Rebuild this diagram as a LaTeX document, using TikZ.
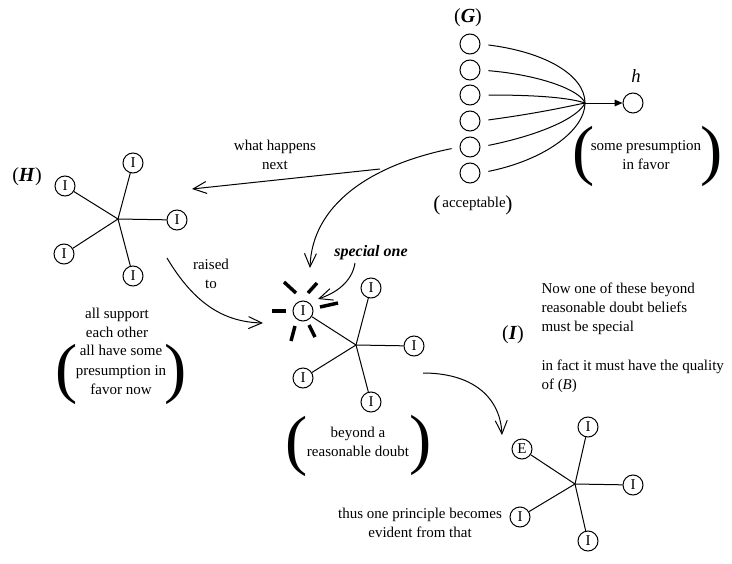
\documentclass[tikz,border=0pt]{standalone}
\usepackage{fontspec}
\setmainfont{Liberation Serif}
\usetikzlibrary{arrows.meta}

\tikzset{every picture/.style={line width=0.75pt}}
\tikzset{
  txt/.style={inner sep=0.75pt, align=center, font=\fontsize{11.25}{14.5}\selectfont},
  bulb/.style={draw, circle, minimum size=15pt, inner sep=0pt, font=\fontsize{11.25}{12}\selectfont},
  bigparen/.style={inner sep=0pt, font=\fontsize{50}{50}\selectfont},
  smallparen/.style={inner sep=0pt, font=\fontsize{16}{16}\selectfont},
  tag/.style={inner sep=0.75pt, font=\fontsize{15}{15}\selectfont},
  openarrow/.style={-{Straight Barb[length=10pt,width=9pt]}},
  ray/.style={line width=2.6pt},
}

\begin{document}
\begin{tikzpicture}[x=0.75pt,y=0.75pt,yscale=-1,xscale=1]
        \useasboundingbox (0,0) rectangle (732,564);

        %Shape: Circle column (G)
        \node [bulb] (g1) at (470,44) {};
        \node [bulb] (g2) at (470,70) {};
        \node [bulb] (g3) at (470,95) {};
        \node [bulb] (g4) at (470,121) {};
        \node [bulb] (g5) at (470,147) {};
        \node [bulb] (g6) at (470,173) {};
        % Text Node
        \node [tag] (glab) at (468,18) {(\textbf{\textit{G}})};
        % Text Node
        \node [smallparen] (accl) at (437,205) {(};
        \node [smallparen] (accr) at (509,205) {)};
        \node [txt] (acc) at (474,204) {acceptable};

        %Shape: Circle h
        \node [bulb] (hdot) at (633,103) {};
        % Text Node
        \node [txt, font=\itshape\fontsize{14}{14}\selectfont] (hlab) at (636,76) {h};

        %Curve Lines
        \coordinate (fan) at (585,103);
        \draw [shorten <=6pt] (g1.east) .. controls (545,52) and (585,75) .. (fan);
        \draw [shorten <=6pt] (g2.east) .. controls (540,75) and (580,90) .. (fan);
        \draw [shorten <=6pt] (g3.east) .. controls (540,95) and (570,98) .. (fan);
        \draw [shorten <=6pt] (g4.east) .. controls (540,113) and (570,106) .. (fan);
        \draw [shorten <=6pt] (g5.east) .. controls (540,135) and (578,118) .. (fan);
        \draw [shorten <=6pt] (g6.east) .. controls (545,160) and (585,130) .. (fan);
        %Straight Lines
        \draw [-{Triangle[length=6pt,width=5pt]}] (fan) -- (hdot);

        % Text Node
        \node [bigparen] (hpl) at (584,156) {(};
        \node [bigparen] (hpr) at (712,156) {)};
        \node [txt] (hfavor) at (646,155) {some presumption\\in favor};

        %Shape: Star (H)
        \node [tag] (Hlab) at (27,177) {(\textbf{\textit{H}})};
        \coordinate (hhub) at (118,219);
        \node [bulb] (ha) at (133,163) {I};
        \node [bulb] (hb) at (65,186) {I};
        \node [bulb] (hc) at (177,220) {I};
        \node [bulb] (hd) at (64,254) {I};
        \node [bulb] (he) at (133,276) {I};
        \draw (hhub) -- (ha);
        \draw (hhub) -- (hb);
        \draw (hhub) -- (hc);
        \draw (hhub) -- (hd);
        \draw (hhub) -- (he);

        % Text Node
        \node [txt] (support) at (117,323) {all support\\each other};
        \node [bigparen] (Hpl) at (67,374) {(};
        \node [bigparen] (Hpr) at (176,374) {)};
        \node [txt] (presume) at (121,370) {all have some\\presumption in\\favor now};

        % Text Node
        \node [txt] (next) at (275,155) {what happens\\next};
        %Straight Lines
        \coordinate (split) at (380,169);
        \coordinate (hin) at (192,189);
        \draw [openarrow] (split) -- (hin);
        %Curve Lines
        \coordinate (spin) at (310,268);
        \draw [openarrow, shorten <=6pt] (g5.west) .. controls (370,165) and (312,205) .. (spin);

        % Text Node
        \node [txt] (raised) at (211,274) {raised\\to};
        %Curve Lines
        \coordinate (rstart) at (167,258);
        \coordinate (rend) at (263,323);
        \draw [openarrow] (rstart) .. controls (195,305) and (225,322) .. (rend);

        %Shape: Star (special)
        \node [bulb] (sp) at (303,311) {I};
        \coordinate (shub) at (356,345);
        \node [bulb] (s2) at (371,288) {I};
        \node [bulb] (s3) at (414,346) {I};
        \node [bulb] (s4) at (303,378) {I};
        \node [bulb] (s5) at (371,402) {I};
        \draw (shub) -- (sp);
        \draw (shub) -- (s2);
        \draw (shub) -- (s3);
        \draw (shub) -- (s4);
        \draw (shub) -- (s5);
        %Straight Lines rays
        \draw [ray] (272,311) -- (286,311);
        \draw [ray] (284,282) -- (296,293);
        \draw [ray] (308,293) -- (317,283);
        \draw [ray] (320,307) -- (338,303);
        \draw [ray] (295,326) -- (291,341);
        \draw [ray] (309,325) -- (315,337);

        % Text Node
        \node [txt, font=\bfseries\itshape\fontsize{12}{12}\selectfont] (spec) at (371,253) {special one};
        %Curve Lines
        \coordinate (spout) at (355,263);
        \coordinate (spend) at (318,299);
        \draw [openarrow] (spout) .. controls (352,282) and (336,293) .. (spend);

        % Text Node
        \node [bigparen] (bpl) at (297,446) {(};
        \node [bigparen] (bpr) at (421,445) {)};
        \node [txt] (beyond) at (358,442) {beyond a\\reasonable doubt};

        % Text Node
        \node [tag] (Ilab) at (513,335) {(\textbf{\textit{I}})};
        \node [txt, align=left, anchor=north west] (special) at (540,281) {Now one of these beyond\\reasonable doubt beliefs\\must be special\\[\baselineskip]in fact it must have the quality\\of (\textit{B})};

        %Curve Lines
        \coordinate (bout) at (423,373);
        \coordinate (ein) at (502,435);
        \draw [openarrow] (bout) .. controls (470,373) and (500,395) .. (ein);

        %Shape: Star (E)
        \coordinate (ehub) at (575,484);
        \node [bulb] (eE) at (522,449) {E};
        \node [bulb] (e2) at (588,427) {I};
        \node [bulb] (e3) at (633,485) {I};
        \node [bulb] (e4) at (520,517) {I};
        \node [bulb] (e5) at (588,541) {I};
        \draw (ehub) -- (eE);
        \draw (ehub) -- (e2);
        \draw (ehub) -- (e3);
        \draw (ehub) -- (e4);
        \draw (ehub) -- (e5);

        % Text Node
        \node [txt] (thus) at (420,523) {thus one principle becomes\\evident from that};

    \end{tikzpicture}
\end{document}
